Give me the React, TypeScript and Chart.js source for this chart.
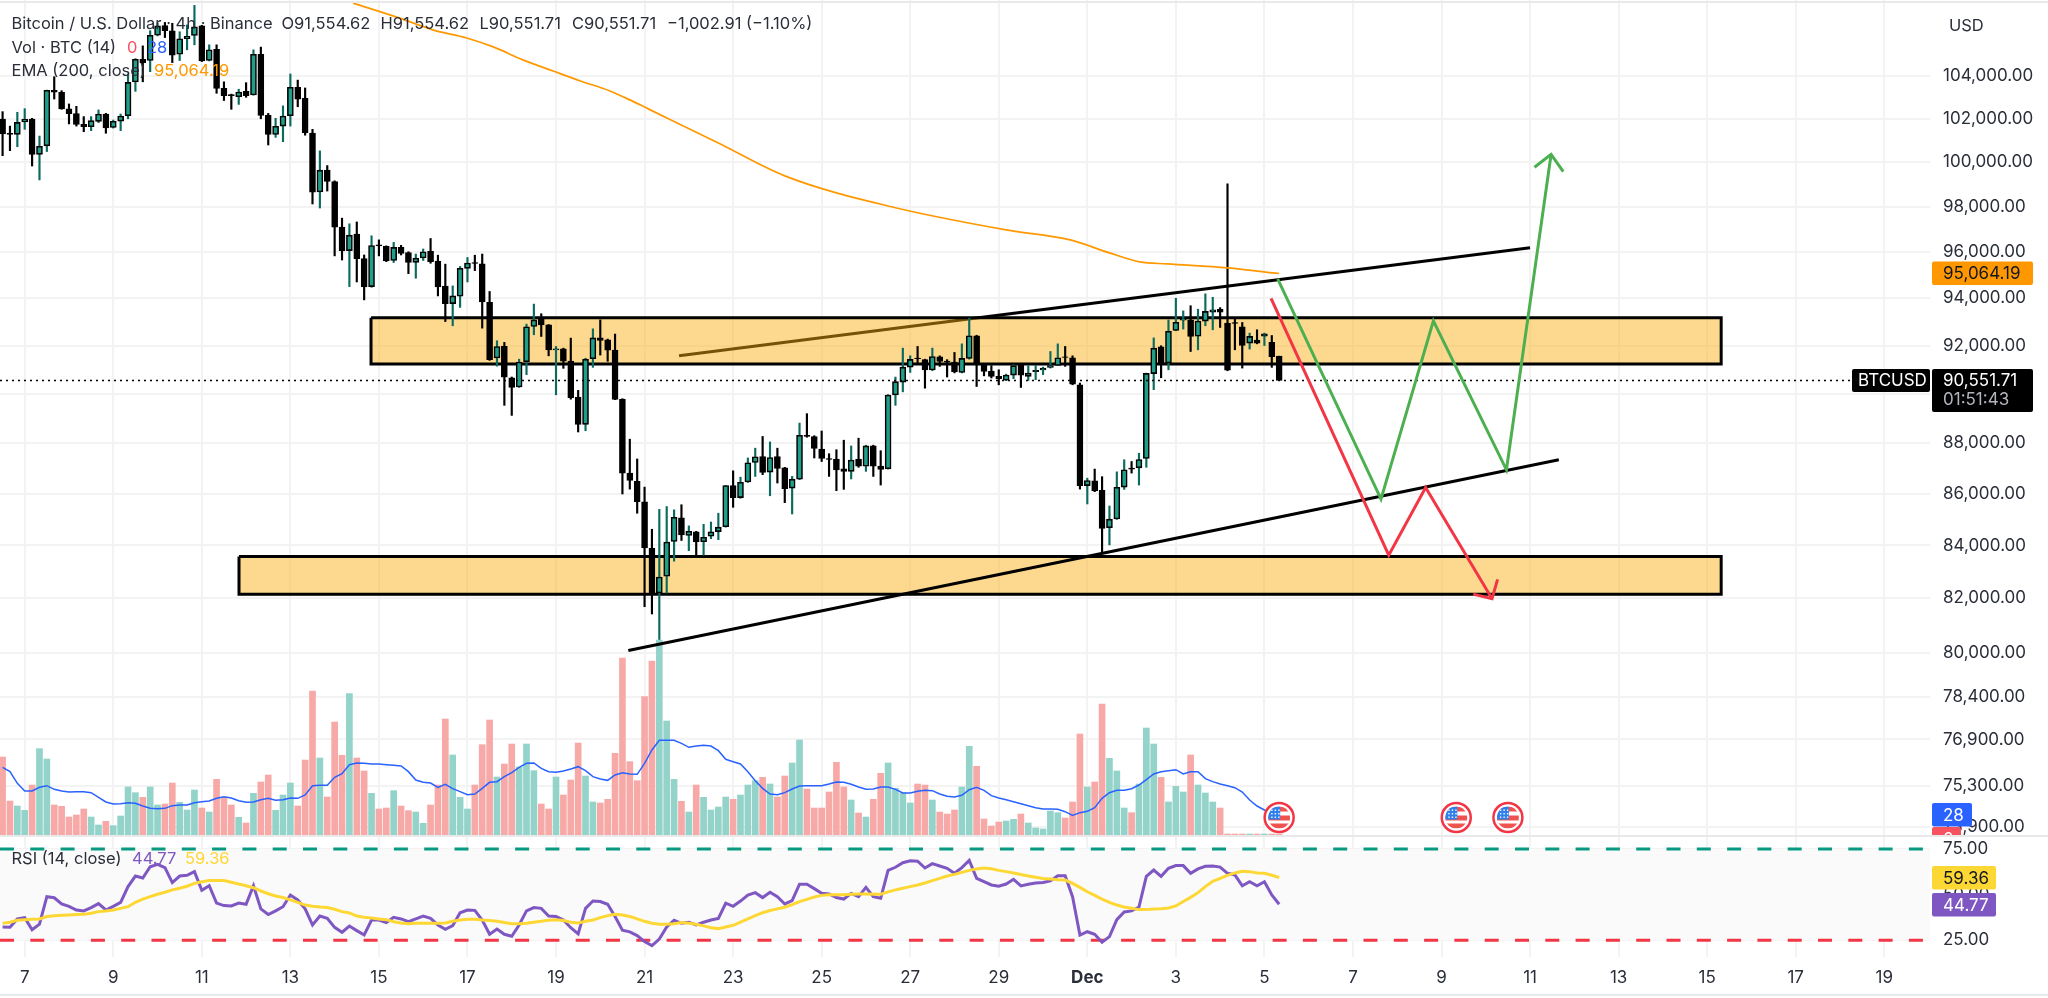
import React, { useEffect, useRef } from 'react';
import Chart from 'chart.js/auto';

const FONT = 'Inter';
const firstBar = -3;

// 4h candles, first one sits three bars left of the "7" tick
const candleOpen = [
  101980,101330,101280,101850,101980,100360,100750,103330,103250,102460,
  102240,101740,101630,101880,102220,101600,101890,102140,103720,104800,
  104740,105950,106420,106170,105040,105790,105940,106400,104740,105280,
  103420,103130,103030,103280,103110,105040,102160,101270,101660,102140,
  103470,102950,101340,98660,99640,99130,97090,96060,96780,95710,
  94500,96310,96250,95630,96200,95970,95550,95740,96030,95600,
  94520,93770,94090,95290,95540,95480,93830,91480,91970,90660,
  90280,91320,92800,93200,92870,91820,91860,91350,89870,88760,
  91450,92320,92240,91810,89770,86810,86490,85680,83900,82200,
  82830,84150,85060,84380,84520,84140,84350,84530,84720,86320,
  85850,86460,87230,87470,86850,87470,87020,86220,86570,88320,
  88270,87760,87390,87370,86980,86880,87370,87080,87890,87090,
  86980,89950,90480,91100,91480,91410,90980,91530,91350,91310,
  90880,91460,92410,91200,90940,90720,90560,90770,91190,90720,
  90910,90980,91090,91170,91530,91490,90370,86320,86510,86130,
  84680,85020,86260,87010,87020,87390,90830,91940,91270,92630,
  93070,93080,92390,93030,93410,93530,92940,92970,92790,92100,
  92230,92390,92130,91554.62,
];
const candleHigh = [
  102330,101660,102300,102470,102020,101200,103340,103970,103310,102690,
  102580,102100,102100,102410,102250,101940,102220,104100,104830,105440,
  106170,106530,106570,106530,106120,106450,107400,106430,105490,105490,
  103730,103150,103380,103690,105250,105380,102250,102020,102600,104100,
  103810,103440,101510,100520,99850,99160,97490,97240,97320,95870,
  96710,96530,96270,96420,96290,96010,95910,96130,96590,95860,
  95470,94530,95370,95760,95860,95910,94290,92200,92130,90690,
  91430,92900,93750,93340,92880,91960,91890,92310,90140,91470,
  92700,93080,92270,92480,89800,88160,87370,86260,84620,85390,
  85500,85370,85570,84750,84540,84810,84900,85240,86330,86900,
  86650,87410,87800,88270,88050,87800,87040,86680,88810,89190,
  88300,88490,87580,87740,88120,87890,88200,87920,87920,87700,
  89970,90690,91890,91570,91960,91430,91890,91570,91410,91710,
  92070,93150,92430,91230,91160,90990,90810,91200,91200,91160,
  91170,91100,91750,92070,91960,91570,90440,86610,86970,86670,
  85520,86860,87340,87270,87600,90850,92320,91990,93080,94000,
  93460,93680,93530,94190,94040,93600,99025,93110,92970,92520,
  92660,92520,92420,91554.62,
];
const candleLow = [
  100300,100530,100710,101510,99830,99200,100490,102920,102440,101760,
  101660,101400,101450,101820,101330,101570,101450,102000,103280,103730,
  104210,105920,105840,104640,104740,105250,105490,104690,104720,103190,
  102850,102440,102670,103000,103100,102000,100790,101140,100940,101660,
  102560,101240,98120,97940,98700,95830,95650,94500,94700,93930,
  94470,95830,95580,95540,95870,95060,94860,95630,95510,94100,
  93010,92830,93610,94700,95190,92730,91380,91140,89530,89120,
  90260,90790,92450,92380,91570,89960,91050,89780,88450,88500,
  91090,91600,91340,89760,85990,86180,85240,81690,81420,80280,
  82200,83400,84190,83800,83610,83630,84260,84220,84700,85470,
  85820,86440,86680,86750,85920,86420,85650,85210,86550,88240,
  87410,87270,86680,86120,86170,86580,87040,86880,86680,86340,
  86970,89530,90080,90880,91230,90230,90950,91130,90690,90860,
  90860,91430,90300,90740,90650,90370,90540,90620,90260,90550,
  90580,90790,91060,91160,91130,90370,86180,85600,86080,83680,
  84020,85000,86170,86810,86340,87040,90170,90660,90990,92620,
  92690,91750,91820,92830,92660,92760,90950,91820,91060,91850,
  92070,92000,91090,90551.71,
];
const candleClose = [
  101300,101280,101830,101970,100360,100730,103330,103240,102460,102240,
  101740,101630,101910,102220,101570,101880,102130,103700,104800,104640,
  105950,106400,106170,104990,105780,105900,106360,104720,105250,103420,
  103080,103080,103250,103080,105040,102160,101270,101650,102130,103470,
  102910,101360,98650,99640,99130,97090,96060,96740,95710,94490,
  96280,96260,95610,96200,95940,95550,95730,96010,95580,94490,
  93770,94100,95290,95520,95500,93840,91410,91960,90680,90260,
  91310,92790,93080,92870,91820,91860,91350,89840,88760,91430,
  92320,92210,91810,89770,86810,86520,85690,83900,82150,82800,
  84130,85080,84400,84540,84130,84310,84520,84700,86320,85850,
  86450,87220,87460,86840,87430,87000,86200,86570,88320,88270,
  87790,87390,87350,86940,86880,87330,87080,87890,87080,86960,
  89950,90500,91100,91420,91450,90980,91540,91340,91310,90900,
  91460,92410,91200,90920,90720,90620,90770,91160,90770,90850,
  90970,91060,91160,91490,91500,90400,86320,86520,86110,84650,
  85010,86250,86940,86970,87350,90840,91890,91240,92600,92980,
  93110,92380,93030,93440,93510,93410,90970,92930,92000,92380,
  92100,92490,91530,90551.71,
];
const volume = [
  117,51,43.5,37,75,129.5,114,45,43,27,
  30,39,27,15,20.5,14,28.5,72,63.5,56.5,
  72,45,46.5,78,49,37.5,67.5,40.5,34.5,83.5,
  56.5,45,26.5,18,62.5,79.5,90,37,60,78,
  43.5,112.5,216,115.5,57,169.5,119.5,212,115.5,96,
  62.5,39,40.5,66.5,43.5,36.5,34.5,17.5,45,75,
  174,120,56.5,39,75,135.5,172.5,87,106.5,136.5,
  102,136.5,96.5,46.5,39,87,60,82.5,138,88.5,
  49.5,48,53.5,122.5,265.5,110,81.5,207.5,261,292.5,
  171,83.5,50.5,34.5,75,56.5,37.5,42,57,53.5,
  60,75,81.5,86.5,76.5,57,88.5,108,142.5,69,
  40.5,40.5,64.5,109,72,52.5,33,27,53.5,92.5,
  108,70,63,48,76.5,75,52.5,34.5,31.5,37.5,
  72,133,103,24,13.5,19.5,21,23.5,31.5,18,
  10.5,9,36,33.5,25.5,49.5,151.5,72,79.5,196.5,
  115,96,40.5,33.5,76.5,160.5,136.5,86.5,49.5,73,
  64.5,120,75,63,49.5,40.5,1.5,1.5,1.5,1.5,
  1.5,1.5,1.5,1.5,
];
const volumeMA = [
  101.5,95,77.5,66,66,71.5,74,68.5,66,64.5,
  65,65,63.5,56.5,49.5,46.5,47,48.5,47.5,43.5,
  40,39.5,40,44,45,45,48.5,50,51,55,
  57.5,55.5,51.5,49,49.5,53,55,52,53,55.5,
  55,60,74,74.5,74.5,86.5,92,105.5,108,107.5,
  106.5,106.5,105.5,104.5,103.5,95,82.5,79,78,71.5,
  76,69.5,65,60.5,61.5,70,79,80,87.5,93.5,
  101.5,107.5,108,100,95,94,96,99,102.5,96.5,
  87.5,84,82,90,93.5,91.5,91,107.5,127.5,142,
  142,142,137.5,131.5,133.5,134.5,133.5,126.5,113.5,110,
  106.5,95,81.5,70,61.5,60.5,63.5,69,73.5,74,
  74,74,76.5,79.5,79,76,72,68.5,69,72,
  72,68.5,63,63,65.5,67,66.5,61.5,58,57,
  59.5,68,71.5,67,59,55.5,53,50,47,44,
  41,39,39,38.5,35,29.5,33.5,35.5,41,55,
  63.5,67,67,69.5,75,83,91.5,95,96.5,98,
  91.5,95,95,84.5,80,76.5,74,71,64.5,52.5,
  43.5,37.5,32.5,28,
];
const rsiValues = [
  32.3,32.1,36.7,37.4,30.8,33.8,48.9,48.3,44.9,43.6,
  41.6,41.1,42.9,45.1,41.6,43.6,45.8,54.4,60.2,59.1,
  65.3,66.6,64.8,56.6,60.2,60.6,62.6,52.4,54.9,45.4,
  44.0,43.8,45.4,44.7,54.9,42.2,39.1,41.1,43.4,49.8,
  47.1,42.2,33.4,38.3,37.0,32.1,29.4,32.8,30.3,27.9,
  36.1,36.1,34.7,37.6,36.7,35.2,36.7,38.3,37.0,33.4,
  31.0,33.0,40.1,41.6,41.4,36.1,28.3,31.2,28.3,27.2,
  33.4,41.1,42.9,42.5,38.3,38.0,36.1,31.9,28.5,42.5,
  46.5,46.2,44.7,38.0,30.5,29.6,27.6,24.3,22.1,25.7,
  32.3,36.0,34.3,34.9,33.4,34.9,36.1,37.0,45.3,43.6,
  46.5,49.8,51.1,48.4,51.3,48.9,44.9,46.7,55.7,55.7,
  53.3,50.7,50.4,48.4,47.6,50.7,48.9,54.0,48.9,48.0,
  63.3,65.0,67.5,68.6,68.3,64.6,67.0,65.7,64.4,61.7,
  64.8,68.8,58.9,57.1,55.3,54.6,55.8,58.4,54.8,55.7,
  56.4,56.7,57.5,60.4,60.4,48.9,27.9,29.7,28.3,23.9,
  27.0,36.3,40.5,41.1,43.2,60.0,63.5,60.0,64.4,65.9,
  65.9,61.7,64.1,65.5,65.7,65.1,61.7,60.8,54.8,57.1,
  54.9,57.1,49.8,44.77,
];
const rsiMA = [
  34.3,34.9,36.0,36.3,36.5,36.7,38.0,38.5,38.7,38.9,
  39.1,39.2,39.8,40.7,41.1,41.6,42.5,43.4,45.8,47.6,
  48.9,50.2,51.3,52.6,53.5,54.6,56.2,57.1,57.7,57.8,
  57.7,56.8,55.8,54.9,53.8,52.0,50.5,49.3,48.4,47.1,
  45.8,44.3,43.6,43.2,42.9,42.0,40.7,40.0,38.3,37.6,
  37.2,36.7,36.3,35.2,34.5,34.1,34.3,34.3,34.3,34.3,
  34.5,35.4,36.1,36.5,36.5,36.1,35.8,35.4,34.7,34.1,
  34.1,34.3,34.9,35.4,36.0,36.3,35.8,34.9,34.5,35.4,
  36.1,37.4,38.5,39.2,38.9,38.0,36.7,35.4,34.3,33.8,
  33.8,34.1,34.7,34.3,33.8,32.9,31.9,31.4,32.3,33.2,
  34.9,36.7,38.5,40.1,41.3,42.2,43.1,44.5,46.2,47.4,
  48.7,49.6,50.0,50.0,50.0,50.2,50.4,50.4,50.2,50.2,
  51.5,52.6,53.5,54.4,55.3,56.4,57.7,58.9,60.2,61.1,
  62.2,63.3,64.1,64.6,64.2,63.3,62.6,61.9,61.0,60.2,
  59.5,58.9,58.6,58.2,58.0,56.2,54.0,51.6,49.6,47.6,
  45.8,44.3,43.2,42.5,41.8,41.8,42.2,42.3,42.7,43.8,
  46.2,48.5,51.1,54.4,57.3,58.9,60.6,61.9,62.8,62.6,
  61.9,61.7,60.6,59.36,
];

// EMA read at its bends
const emaBars = [44.5,50.9,55.3,59.9,63.5,67.5,71.6,75.3,79.3,82,84.5,94,103,117,133,141.7,147,151.1,154.8,163,170];
const emaValues = [107510,106770,106210,105820,105390,104770,104240,103770,103300,102880,102460,100880,99385,98030,96970,96530,95960,95570,95480,95310,95064.19];

// drawn zones and lines
const zoneUpper = { from: 46.93, to: 229.9, top: 93170, bottom: 91230 };
const zoneLower = { from: 29.04, to: 229.9, top: 83580, bottom: 82150 };
const resistanceBars = [88.67, 204];
const resistancePrices = [91570, 96190];
const supportBars = [81.8, 207.9];
const supportPrices = [80080, 87340];
const greenBars = [169.8,183.8,190.9,200.8,206.85];
const greenPrices = [94830,85790,93040,86940,100360];
const greenHeadBars = [204.6,206.85,208.5];
const greenHeadPrices = [99775,100360,99580];
const redBars = [168.9,184.85,189.85,198.85];
const redPrices = [94000,83630,86240,81990];
const redHeadBars = [196.3,198.85,199.6];
const redHeadPrices = [82160,81990,82710];
const flagBars = [170, 194, 201];

const priceTicks = [104000,102000,100000,98000,96000,94000,92000,90000,88000,86000,84000,82000,80000,78400,76900,75300,73900];
const rsiTicks = [25, 50, 75];
const dayTickBars = [0,12,24,36,48,60,72,84,96,108,120,132,144,156,168,180,192,204,216,228,240,252];
const dayTickLabels = ['7','9','11','13','15','17','19','21','23','25','27','29','Dec','3','5','7','9','11','13','15','17','19'];

const lastPrice = 90551.71;
const emaLast = '95,064.19';
const legendTitle = 'Bitcoin / U.S. Dollar · 4h · Binance';

const GRID = '#f3f3f4';
const TEXT = '#2a2e39';

const xy = (xs: number[], ys: number[]) => xs.map((x, i) => ({ x, y: ys[i] }));
const series = (ys: number[]) => ys.map((y, i) => ({ x: i + firstBar, y }));
const isUp = (i: number) => candleClose[i] >= candleOpen[i];

const lineSet = (data: any[], color: string, width: number, order: number, yAxisID = 'y', extra: any = {}) => ({
  type: 'line' as const,
  data,
  borderColor: color,
  borderWidth: width,
  pointRadius: 0,
  tension: 0,
  fill: false,
  order,
  yAxisID,
  ...extra,
});

const zoneSets = (z: typeof zoneUpper, order: number) => [
  lineSet(xy([z.from, z.to], [z.top, z.top]), 'transparent', 0, order, 'y', {
    fill: { target: { value: z.bottom } },
    backgroundColor: 'rgba(250,175,20,0.47)',
  }),
  lineSet(
    xy([z.from, z.to, z.to, z.from, z.from], [z.top, z.top, z.bottom, z.bottom, z.top]),
    '#000',
    3,
    order - 1
  ),
];

const drawTag = (
  ctx: CanvasRenderingContext2D,
  x: number,
  y: number,
  w: number,
  h: number,
  bg: string,
  text: string,
  color: string
) => {
  ctx.fillStyle = bg;
  ctx.beginPath();
  ctx.roundRect(x, y, w, h, 2);
  ctx.fill();
  ctx.fillStyle = color;
  ctx.fillText(text, x + 11, y + h / 2 + 1);
};

const drawFlag = (ctx: CanvasRenderingContext2D, cx: number, cy: number) => {
  ctx.save();
  ctx.beginPath();
  ctx.arc(cx, cy, 14.5, 0, Math.PI * 2);
  ctx.fillStyle = '#fff';
  ctx.fill();
  ctx.strokeStyle = '#f23645';
  ctx.lineWidth = 2.5;
  ctx.stroke();
  ctx.beginPath();
  ctx.arc(cx, cy, 11, 0, Math.PI * 2);
  ctx.clip();
  ctx.fillStyle = '#ef5350';
  ctx.fillRect(cx - 11, cy - 11, 22, 5);
  ctx.fillRect(cx - 11, cy - 2, 22, 5);
  ctx.fillRect(cx - 11, cy + 6, 22, 5);
  ctx.fillStyle = '#2f80ed';
  ctx.fillRect(cx - 11, cy - 11, 12, 13);
  ctx.fillStyle = '#fff';
  for (let a = 0; a < 3; a++) {
    for (let b = 0; b < 3; b++) {
      ctx.fillRect(cx - 8 + a * 3.5, cy - 8 + b * 3.5, 1.4, 1.4);
    }
  }
  ctx.restore();
};

const overlayPlugin = {
  id: 'overlay',
  afterDraw(chart: any) {
    const { ctx } = chart;
    const xScale = chart.scales.x;
    ctx.save();
    ctx.strokeStyle = '#e9e9ea';
    ctx.lineWidth = 2;
    [2, 836, 995].forEach((y) => {
      ctx.beginPath();
      ctx.moveTo(0, y);
      ctx.lineTo(2048, y);
      ctx.stroke();
    });

    flagBars.forEach((b) => drawFlag(ctx, xScale.getPixelForValue(b), 817.5));

    ctx.font = `16.5px ${FONT}`;
    ctx.textBaseline = 'middle';
    ctx.textAlign = 'left';

    const legend: [string, number, number, string][] = [
      [legendTitle, 11.5, 24, TEXT],
      ['O91,554.62', 281.5, 24, TEXT],
      ['H91,554.62', 380.5, 24, TEXT],
      ['L90,551.71', 479.5, 24, TEXT],
      ['C90,551.71', 572, 24, TEXT],
      ['−1,002.91 (−1.10%)', 667, 24, TEXT],
      ['Vol · BTC (14)', 11.5, 48, TEXT],
      ['0', 127, 48, '#f7525f'],
      ['28', 147, 48, '#2962ff'],
      ['EMA (200, close)', 11.5, 71, TEXT],
      [emaLast, 154, 71, '#ff9800'],
      ['RSI (14, close)', 11.5, 859, TEXT],
      ['44.77', 132, 859, '#7e57c2'],
      ['59.36', 185, 859, '#fdd835'],
      ['USD', 1949, 26, TEXT],
    ];
    legend.forEach(([t, x, y, c]) => {
      ctx.fillStyle = c;
      ctx.fillText(t, x, y);
    });

    ctx.font = `17px ${FONT}`;
    ctx.fillStyle = '#000';
    ctx.beginPath();
    ctx.roundRect(1852, 369, 78, 23, 2);
    ctx.fill();
    ctx.fillStyle = '#fff';
    ctx.fillText('BTCUSD', 1858, 381);

    drawTag(ctx, 1932, 261.5, 101, 23.5, '#ff9800', emaLast, '#131722');
    ctx.fillStyle = '#000';
    ctx.beginPath();
    ctx.roundRect(1932, 369, 101, 43, 2);
    ctx.fill();
    ctx.fillStyle = '#fff';
    ctx.fillText(lastPrice.toLocaleString('en-US', { minimumFractionDigits: 2 }), 1943, 381);
    ctx.fillStyle = '#b2b5be';
    ctx.fillText('01:51:43', 1943, 400);

    drawTag(ctx, 1932, 866, 64, 23.5, '#fdd835', '59.36', '#131722');
    drawTag(ctx, 1932, 893, 64, 23.5, '#7e57c2', '44.77', '#fff');

    // volume tags, the red one is cut by the pane edge
    ctx.save();
    ctx.beginPath();
    ctx.rect(1930, 790, 118, 45);
    ctx.clip();
    drawTag(ctx, 1932, 827, 29, 23, '#f7525f', '0', '#fff');
    drawTag(ctx, 1932, 803, 40, 23.5, '#2962ff', '28', '#fff');
    ctx.restore();
    ctx.restore();
  },
};

const App: React.FC = () => {
  const canvasRef = useRef<HTMLCanvasElement>(null);

  useEffect(() => {
    if (!canvasRef.current) return;
    Chart.defaults.font.family = FONT;

    const bars = candleOpen.map((_, i) => i);
    const fixPadding = (s: any) => {
      s.paddingTop = 0;
      s.paddingBottom = 0;
      s.paddingLeft = 0;
      s.paddingRight = 0;
    };

    const chart = new Chart(canvasRef.current, {
      type: 'bar',
      data: {
        datasets: [
          lineSet(xy(resistanceBars, resistancePrices), '#000', 3, 100),
          ...zoneSets(zoneUpper, 90),
          ...zoneSets(zoneLower, 88),
          {
            type: 'bar' as const,
            data: bars.map((i) => ({ x: i + firstBar, y: [candleLow[i], candleHigh[i]] })),
            backgroundColor: bars.map((i) => (isUp(i) ? '#0b6b5f' : '#000')),
            barThickness: 1.5,
            grouped: false,
            order: 70,
            yAxisID: 'y',
          },
          {
            type: 'bar' as const,
            data: bars.map((i) => ({ x: i + firstBar, y: [candleOpen[i], candleClose[i]] })),
            backgroundColor: bars.map((i) => (isUp(i) ? '#1f9e89' : '#000')),
            borderColor: '#000',
            borderWidth: 1.6,
            borderSkipped: false,
            barThickness: 6,
            grouped: false,
            order: 65,
            yAxisID: 'y',
          },
          {
            type: 'bar' as const,
            data: series(volume),
            backgroundColor: bars.map((i) => (isUp(i) ? '#93d3c9' : '#f7a9a7')),
            barThickness: 6,
            grouped: false,
            order: 60,
            yAxisID: 'vol',
          },
          lineSet(series(volumeMA), '#2962ff', 1.5, 50, 'vol'),
          lineSet(xy([-3.35, 258.2], [lastPrice, lastPrice]), '#000', 1.5, 45, 'y', { borderDash: [2, 4] }),
          lineSet(xy(emaBars, emaValues), '#ff9800', 1.7, 40, 'y', { cubicInterpolationMode: 'monotone' }),
          lineSet(xy(supportBars, supportPrices), '#000', 3, 30),
          lineSet(xy(greenBars, greenPrices), '#4caf50', 3, 20),
          lineSet(xy(greenHeadBars, greenHeadPrices), '#4caf50', 3, 20),
          lineSet(xy(redBars, redPrices), '#f23645', 3, 19),
          lineSet(xy(redHeadBars, redHeadPrices), '#f23645', 3, 19),
          // RSI band with its dashed limits
          lineSet(xy([-3.35, 258.2], [75, 75]), '#089981', 3, 80, 'rsi', {
            borderDash: [14, 16.3],
            fill: { target: { value: 25 } },
            backgroundColor: '#fafafa',
          }),
          lineSet(xy([-3.35, 258.2], [25, 25]), '#f23645', 3, 79, 'rsi', { borderDash: [14, 16.3] }),
          lineSet(series(rsiValues), '#7e57c2', 3, 12, 'rsi'),
          lineSet(series(rsiMA), '#fdd835', 3, 11, 'rsi'),
        ] as any,
      },
      options: {
        responsive: false,
        animation: false,
        events: [],
        plugins: {
          legend: { display: false },
          tooltip: { enabled: false },
        },
        scales: {
          x: {
            type: 'linear',
            min: -3.35,
            max: 258.2,
            offset: false,
            grid: { offset: false, color: GRID, lineWidth: 2, drawTicks: false },
            border: { display: false },
            afterBuildTicks: (s: any) => {
              s.ticks = dayTickBars.map((value) => ({ value }));
            },
            afterFit: (s: any) => {
              fixPadding(s);
              s.height = 41;
            },
            ticks: {
              autoSkip: false,
              maxRotation: 0,
              padding: 11,
              color: TEXT,
              font: (c: any) => ({
                size: 17,
                weight: dayTickLabels[c.index] === 'Dec' ? 'bold' : 'normal',
              }),
              callback: (_v: any, i: number) => dayTickLabels[i],
            },
          },
          y: {
            type: 'logarithmic',
            position: 'right',
            stack: 'panes',
            stackWeight: 836,
            weight: 0,
            min: 73596,
            max: 107664,
            grid: { color: GRID, lineWidth: 2, drawTicks: false },
            border: { display: false },
            afterBuildTicks: (s: any) => {
              s.ticks = priceTicks.map((value) => ({ value }));
            },
            afterFit: (s: any) => {
              fixPadding(s);
              s.width = 118;
            },
            ticks: {
              autoSkip: false,
              padding: 13,
              color: TEXT,
              font: { size: 17 },
              callback: (v: any) => Number(v).toLocaleString('en-US', { minimumFractionDigits: 2 }),
            },
          },
          rsi: {
            type: 'linear',
            position: 'right',
            stack: 'panes',
            stackWeight: 121,
            weight: 1,
            min: 15.85,
            max: 82.12,
            grid: { color: GRID, lineWidth: 2, drawTicks: false },
            border: { display: false },
            afterBuildTicks: (s: any) => {
              s.ticks = rsiTicks.map((value) => ({ value }));
            },
            afterFit: (s: any) => {
              fixPadding(s);
              s.width = 118;
            },
            ticks: {
              autoSkip: false,
              padding: 13,
              color: TEXT,
              font: { size: 17 },
              callback: (v: any) => Number(v).toFixed(2),
            },
          },
          // hidden, spans price and RSI panes so zero lands on the pane edge
          vol: {
            type: 'linear',
            position: 'right',
            display: false,
            min: -183,
            max: 1252.5,
          },
        },
      },
      plugins: [overlayPlugin],
    } as any);

    return () => chart.destroy();
  }, []);

  return (
    <div style={{ position: 'absolute', left: 0, top: 0, width: 2048, height: 998, background: '#fff' }}>
      <canvas ref={canvasRef} width={2048} height={998} style={{ display: 'block' }} />
    </div>
  );
};

export default App;
